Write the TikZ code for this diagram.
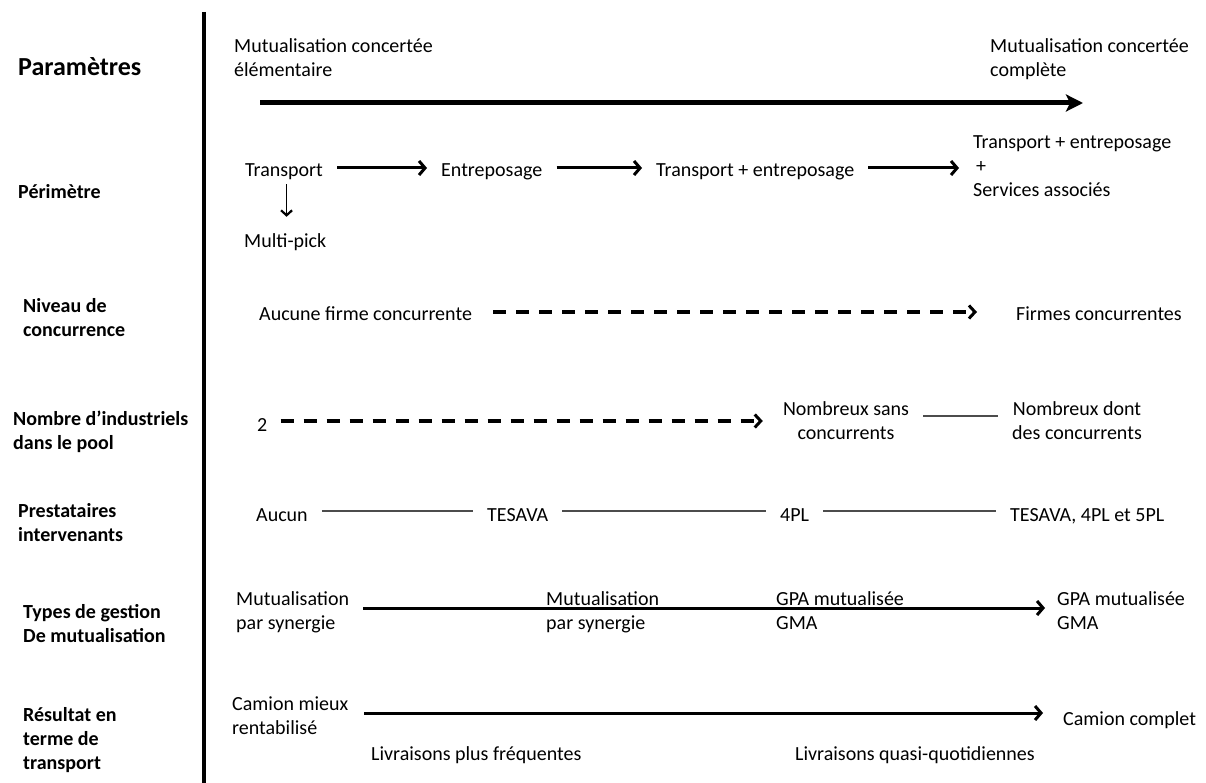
\documentclass[tikz,border=0pt]{standalone}
\usepackage{fontspec}
\setmainfont{Carlito}
\usetikzlibrary{arrows.meta}

\begin{document}
\begin{tikzpicture}[x=1pt, y=-1pt,
    txt/.style={inner sep=0pt, anchor=west, align=left, yshift=-4pt,
      font=\fontsize{20}{24}\selectfont,
      execute at begin node=\strut, execute at end node=\strut},
    param/.style={txt, font=\fontsize{20}{24}\selectfont\bfseries},
    gap/.style={shorten <=14pt, shorten >=14pt},
    bigarrow/.style={line width=5pt, -{Stealth[length=17pt,width=17pt,inset=4pt]}},
    flow/.style={line width=3pt, -{Straight Barb[length=6pt,width=14pt,line width=3pt]}},
    dasharrow/.style={line width=3.5pt, dash pattern=on 13pt off 10pt,
      -{Straight Barb[length=6pt,width=13pt,line width=3pt]}},
    link/.style={line width=1.4pt, black!70}]
    \useasboundingbox (0,0) rectangle (1206,783);

    % Left column
    \node[param, font=\fontsize{26}{30}\selectfont\bfseries] (title) at (18,66) {Paramètres};
    \node[param] (perim) at (18,190) {Périmètre};
    \node[param] (niveau) at (23,317.5) {Niveau de\\concurrence};
    \node[param] (nombre) at (13,429.5) {Nombre d’industriels\\dans le pool};
    \node[param] (presta) at (18,522) {Prestataires\\intervenants};
    \node[param] (types) at (23,623.5) {Types de gestion\\De mutualisation};
    \node[param] (result) at (23,738.5) {Résultat en\\terme de\\transport};

    % Separator
    \draw[line width=4.5pt] (204,12) -- (204,783);

    % Top scale
    \node[txt] (mce) at (234,57) {Mutualisation concertée\\élémentaire};
    \node[txt] (mcc) at (990,57) {Mutualisation concertée\\complète};
    \coordinate (scaleL) at (260,103);
    \coordinate (scaleR) at (1083,103);
    \draw[bigarrow] (scaleL) -- (scaleR);

    % Perimetre
    \node[txt] (tr) at (245,168) {Transport};
    \node[txt] (ent) at (441,168) {Entreposage};
    \node[txt] (te) at (656,168) {Transport + entreposage};
    \node[txt] (tes) at (973,165.5) {Transport + entreposage\\\hspace{3pt}+\\Services associés};
    \node[txt] (mp) at (244,239) {Multi-pick};
    \draw[flow, gap] (tr.east |- 0,168) -- (ent.west |- 0,168);
    \draw[flow, gap] (ent.east |- 0,168) -- (te.west |- 0,168);
    \draw[flow, gap] (te.east |- 0,168) -- (tes.west |- 0,168);
    \draw[line width=1.3pt, -{Straight Barb[length=5pt,width=11pt,line width=2.2pt]},
      shorten >=14pt] ([xshift=2.5pt]tr.south) -- ([xshift=2.5pt]tr.south |- mp.north);

    % Niveau de concurrence
    \node[txt] (afc) at (259,312) {Aucune firme concurrente};
    \node[txt] (fc) at (1016,312) {Firmes concurrentes};
    \draw[dasharrow, shorten <=21pt, shorten >=39pt] (afc.east |- 0,312) -- (fc.west |- 0,312);

    % Nombre d'industriels
    \node[txt] (two) at (257,423) {2};
    \node[txt, anchor=center, align=center] (nsc) at (846,420) {Nombreux sans\\concurrents};
    \node[txt, anchor=center, align=center] (ndc) at (1077,420) {Nombreux dont\\des concurrents};
    \draw[dasharrow, shorten <=13pt, shorten >=20pt] (two.east |- 0,421) -- (nsc.west |- 0,421);
    \draw[link, gap] (nsc.east |- 0,416) -- (ndc.west |- 0,416);

    % Prestataires
    \node[txt] (aucun) at (256,513) {Aucun};
    \node[txt] (tesava) at (487,513) {TESAVA};
    \node[txt] (fourpl) at (780,513) {4PL};
    \node[txt] (allpl) at (1010,513) {TESAVA, 4PL et 5PL};
    \draw[link, gap] (aucun.east |- 0,511) -- (tesava.west |- 0,511);
    \draw[link, gap] (tesava.east |- 0,511) -- (fourpl.west |- 0,511);
    \draw[link, gap] (fourpl.east |- 0,511) -- (allpl.west |- 0,511);

    % Types de gestion
    \node[txt] (syn1) at (236,610) {Mutualisation\\par synergie};
    \node[txt] (syn2) at (546,610) {Mutualisation\\par synergie};
    \node[txt] (gpa1) at (776,610) {GPA mutualisée\\GMA};
    \node[txt] (gpa2) at (1057,610) {GPA mutualisée\\GMA};
    \draw[flow, shorten <=14pt, shorten >=12pt] (syn1.east |- 0,608) -- (gpa2.west |- 0,608);

    % Resultat
    \node[txt] (cmr) at (232,715) {Camion mieux\\rentabilisé};
    \node[txt] (cc) at (1063,717) {Camion complet};
    \node[txt] (lpf) at (371,752) {Livraisons plus fréquentes};
    \node[txt] (lqq) at (795,752) {Livraisons quasi-quotidiennes};
    \draw[flow, shorten <=16pt, shorten >=20pt] (cmr.east |- 0,713) -- (cc.west |- 0,713);

\end{tikzpicture}
\end{document}
